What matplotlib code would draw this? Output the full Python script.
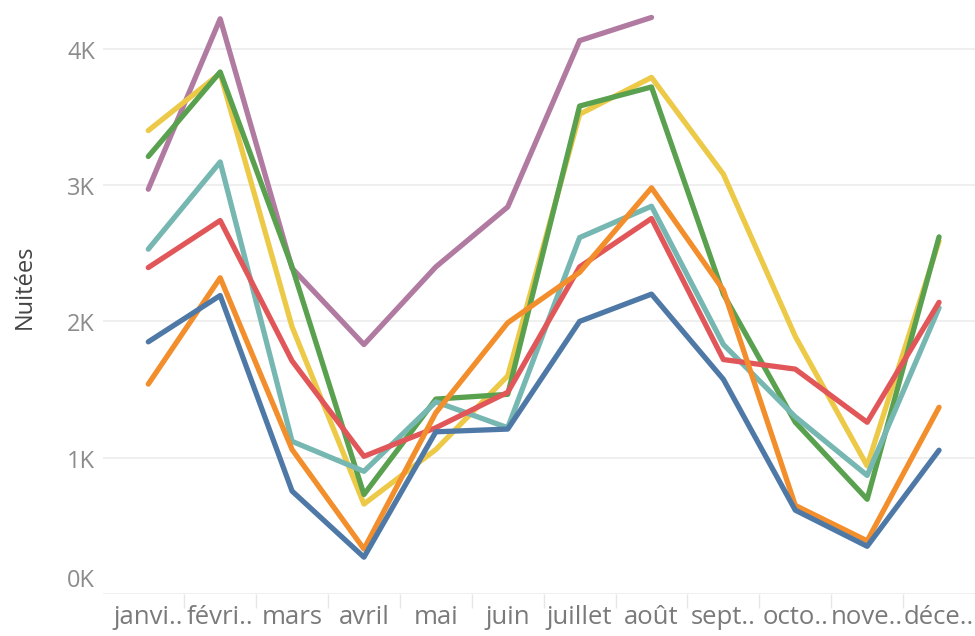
import numpy as np
import matplotlib
matplotlib.use("Agg")
import matplotlib.pyplot as plt
from matplotlib.ticker import FixedLocator, NullFormatter

plt.rcParams['font.family'] = ['Open Sans', 'DejaVu Sans']

# --- données (nuitées par mois) ---
mois = ['janvi..', 'févri..', 'mars', 'avril', 'mai', 'juin',
        'juillet', 'août', 'sept..', 'octo..', 'nove..', 'déce..']

nan = np.nan
violet = [2970, 4220, 2390, 1830, 2400, 2840, 4060, 4230, nan, nan, nan, nan]
jaune = [3400, 3820, 1960, 660, 1060, 1600, 3520, 3790, 3080, 1890, 940, 2590]
vert = [3210, 3830, 2400, 730, 1430, 1465, 3580, 3720, 2200, 1260, 695, 2620]
turquoise = [2530, 3170, 1120, 900, 1410, 1220, 2615, 2845, 1830, 1300, 870, 2100]
rouge = [2395, 2740, 1710, 1010, 1220, 1480, 2400, 2755, 1720, 1650, 1260, 2140]
orange = [1540, 2320, 1060, 330, 1330, 1990, 2360, 2980, 2230, 650, 390, 1370]
bleu = [1850, 2190, 755, 270, 1190, 1210, 2000, 2200, 1575, 615, 350, 1055]

graduations = [0, 1000, 2000, 3000, 4000]
etiquettes_y = ['0K', '1K', '2K', '3K', '4K']

series = [
    (violet, '#B07AA1'),
    (jaune, '#EDC948'),
    (vert, '#59A14F'),
    (turquoise, '#76B7B2'),
    (rouge, '#E15759'),
    (orange, '#F28E2B'),
    (bleu, '#4E79A7'),
]

fig = plt.figure(figsize=(9.75, 6.36), dpi=100)
ax = fig.add_axes([103 / 975, 1 - 594 / 636, 1 - 103 / 975, 594 / 636])

x = np.arange(len(mois))
for valeurs, couleur in series:
    ax.plot(x, valeurs, color=couleur, linewidth=3.8,
            solid_capstyle='round', solid_joinstyle='round')

ax.set_xlim(-0.63, 11.5)
ax.set_ylim(0, 594 / 136.3 * 1000)

# grille horizontale
ax.yaxis.set_major_locator(FixedLocator(graduations))
ax.yaxis.set_major_formatter(NullFormatter())
ax.grid(axis='y', color='#ececec', linewidth=1.2)
ax.set_axisbelow(True)

# étiquettes Y un peu sous la ligne (la dernière remonte, façon Tableau)
for v, txt in zip(graduations, etiquettes_y):
    dy = 13 if v == 0 else -4
    ax.annotate(txt, xy=(0, v), xycoords=('axes fraction', 'data'),
                xytext=(-8, dy), textcoords='offset pixels',
                ha='right', va='center', fontsize=17, color='#8c8c8c')

ax.set_xticks(x)
ax.set_xticklabels(mois)
ax.set_xticks(x[:-1] + 0.5, minor=True)
ax.tick_params(axis='x', which='major', length=0, pad=8, labelsize=18.5,
               labelcolor='#7a7a7a')
ax.tick_params(axis='x', which='minor', length=10, width=1, color='#e6e6e6',
               direction='out')
ax.tick_params(axis='y', length=0)

for s in ax.spines.values():
    s.set_visible(False)

fig.text(25 / 975, 1 - 287 / 636, 'Nuitées', rotation=90, ha='center',
         va='center', fontsize=17, color='#444444')

fig.savefig('out.png', dpi=100)
